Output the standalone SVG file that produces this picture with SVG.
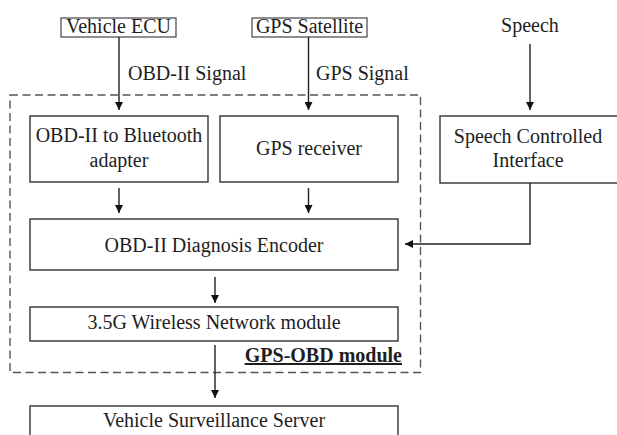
<svg xmlns="http://www.w3.org/2000/svg" width="617" height="435" viewBox="0 0 617 435">
<style>
text{font-family:'Liberation Serif','Times New Roman','DejaVu Serif',serif;font-size:20px;fill:#1e1e1e}
.c{text-anchor:middle}
.box{fill:#fff;stroke:#333;stroke-width:1.4}
.lbl{fill:#fff;stroke:#444;stroke-width:1.2}
.ln{fill:none;stroke:#222;stroke-width:1.4}
.dash{fill:none;stroke:#555;stroke-width:1.4;stroke-dasharray:8 4.5}
</style>
<defs>
<marker id="ah" viewBox="0 0 10 10" refX="10" refY="5" markerWidth="8" markerHeight="8" markerUnits="userSpaceOnUse" orient="auto">
<path d="M0,0 L10,5 L0,10 Z" fill="#111"/>
</marker>
</defs>
<g id="gps-obd-module">
<rect class="dash" x="10" y="95" width="410.5" height="277.5"/>
<text x="402" y="362" text-anchor="end" font-weight="bold" text-decoration="underline">GPS-OBD module</text>
</g>
<g id="vehicle-ecu">
<rect class="lbl" x="61" y="18" width="115" height="19"/>
<text class="c" x="118.5" y="33">Vehicle ECU</text>
</g>
<g id="gps-satellite">
<rect class="lbl" x="252" y="18" width="115" height="19"/>
<text class="c" x="309.5" y="33">GPS Satellite</text>
</g>
<g id="speech">
<text class="c" x="530" y="32">Speech</text>
</g>
<g id="obd-bt">
<rect class="box" x="30" y="116" width="178" height="66"/>
<text class="c" x="119" y="142">OBD-II to Bluetooth</text>
<text class="c" x="119" y="167">adapter</text>
</g>
<g id="gps-receiver">
<rect class="box" x="220" y="116" width="178" height="66"/>
<text class="c" x="309" y="155">GPS receiver</text>
</g>
<g id="speech-interface">
<rect class="box" x="440" y="116" width="180" height="67"/>
<text class="c" x="528" y="143">Speech Controlled</text>
<text class="c" x="528" y="167">Interface</text>
</g>
<g id="encoder">
<rect class="box" x="30" y="219" width="368" height="51"/>
<text class="c" x="214" y="252">OBD-II Diagnosis Encoder</text>
</g>
<g id="wireless">
<rect class="box" x="30" y="307" width="368" height="34"/>
<text class="c" x="214" y="329">3.5G Wireless Network module</text>
</g>
<g id="server">
<rect class="box" x="30" y="406" width="368" height="40"/>
<text class="c" x="214" y="427">Vehicle Surveillance Server</text>
</g>
<g id="connectors">
<line class="ln" x1="119" y1="37" x2="119" y2="110" marker-end="url(#ah)"/>
<text x="128" y="80">OBD-II Signal</text>
<line class="ln" x1="308.5" y1="37" x2="308.5" y2="110" marker-end="url(#ah)"/>
<text x="316" y="80">GPS Signal</text>
<line class="ln" x1="530" y1="44" x2="530" y2="110" marker-end="url(#ah)"/>
<line class="ln" x1="119" y1="188" x2="119" y2="213" marker-end="url(#ah)"/>
<line class="ln" x1="308.5" y1="188" x2="308.5" y2="213" marker-end="url(#ah)"/>
<polyline class="ln" points="530,183 530,244 405,244" marker-end="url(#ah)"/>
<line class="ln" x1="215" y1="277" x2="215" y2="303" marker-end="url(#ah)"/>
<line class="ln" x1="215" y1="345" x2="215" y2="398" marker-end="url(#ah)"/>
</g>
</svg>
